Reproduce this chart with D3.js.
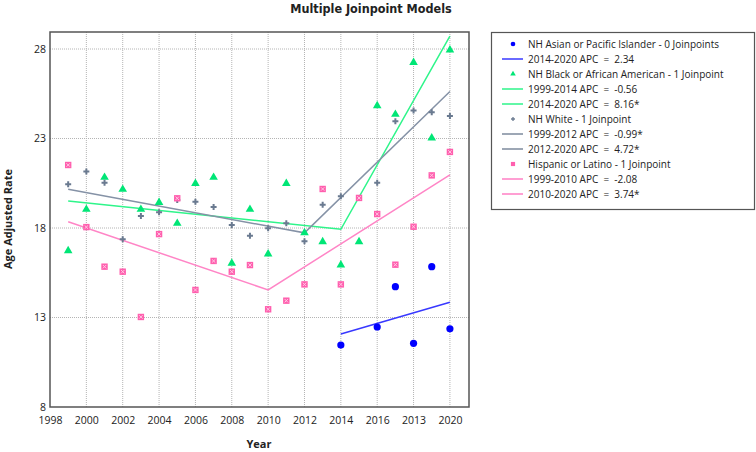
<!DOCTYPE html>
<html>
<head>
<meta charset="utf-8">
<script src="https://cdn.jsdelivr.net/npm/d3@7"></script>
<style>
  body { margin: 0; background: #fff; }
  text { font-family: "Open Sans", "Noto Sans", sans-serif; fill: #222; }
</style>
</head>
<body>
<div id="chart"></div>
<script>
// observed rates per year (null = no point shown)
const years = [1999, 2000, 2001, 2002, 2003, 2004, 2005, 2006, 2007, 2008, 2009,
               2010, 2011, 2012, 2013, 2014, 2015, 2016, 2017, 2018, 2019, 2020];

const asianRates = [null, null, null, null, null, null, null, null, null, null, null,
                    null, null, null, null, 11.46, null, 12.47, 14.72, 11.56, 15.84, 12.37];
const blackRates = [16.73, 19.04, 20.83, 20.16, 19.04, 19.43, 18.26, 20.49, 20.83, 16.03, 19.04,
                    16.55, 20.49, 17.74, 17.23, 15.93, 17.23, 24.83, 24.35, 27.25, 23.03, 27.94];
const whiteRates = [20.44, 21.15, 20.53, 17.37, 18.67, 18.88, 19.56, 19.47, 19.17, 18.17, 17.57,
                    17.98, 18.26, 17.26, 19.30, 19.77, null, 20.53, 23.96, 24.56, 24.46, 24.26];
const hispanicRates = [21.52, 18.05, 15.84, 15.56, 13.03, 17.66, 19.66, 14.54, 16.16, 15.56, 15.93,
                       13.46, 13.94, 14.85, 20.18, 14.85, 19.68, 18.78, 15.95, 18.07, 20.94, 22.25];

// joinpoint model fits (knot years and fitted values)
const asianFitYears = [2014, 2020];
const asianFitValues = [12.08, 13.85];
const blackFitYears = [1999, 2014, 2020];
const blackFitValues = [19.51, 17.93, 28.72];
const whiteFitYears = [1999, 2012, 2020];
const whiteFitValues = [20.16, 17.73, 25.63];
const hispanicFitYears = [1999, 2010, 2020];
const hispanicFitValues = [18.35, 14.54, 20.97];

// axis ticks
const xTicks = [1998, 2000, 2002, 2004, 2006, 2008, 2010, 2012, 2014, 2016, 2018, 2020];
const xTickLabels = ["1998", "2000", "2002", "2004", "2006", "2008", "2010", "2012", "2014", "2016", "2013", "2020"];
const yTicks = [8, 13, 18, 23, 28];

// legend rows
const legendLabels = [
    "NH Asian or Pacific Islander - 0 Joinpoints",
    "2014-2020 APC  =  2.34",
    "NH Black or African American - 1 Joinpoint",
    "1999-2014 APC  =  -0.56",
    "2014-2020 APC  =  8.16*",
    "NH White - 1 Joinpoint",
    "1999-2012 APC  =  -0.99*",
    "2012-2020 APC  =  4.72*",
    "Hispanic or Latino - 1 Joinpoint",
    "1999-2010 APC  =  -2.08",
    "2010-2020 APC  =  3.74*"
];
const legendKinds = ["asian", "line", "black", "line", "line", "white", "line", "line", "hispanic", "line", "line"];
const legendColors = ["#0000ff", "#3838ff", "#00e676", "#2ef58a", "#2ef58a", "#708090", "#7d8a9c", "#7d8a9c",
                      "#ff5fae", "#ff7fc4", "#ff7fc4"];

const width = 756, height = 452;
const plot = { left: 50, right: 469, top: 32, bottom: 407 };

const svg = d3.select("#chart").append("svg")
    .attr("width", width)
    .attr("height", height);

const x = d3.scaleLinear().domain([1998, 2021.05]).range([plot.left, plot.right]);
const y = d3.scaleLinear().domain([8, 28.95]).range([plot.bottom, plot.top]);

// title
svg.append("text")
    .attr("x", 371).attr("y", 13)
    .attr("text-anchor", "middle")
    .style("font-family", "'Liberation Sans Narrow', 'DejaVu Sans Condensed', sans-serif")
    .style("font-weight", "bold")
    .style("font-size", "12.5px")
    .text("Multiple Joinpoint Models");

// gridlines
svg.append("g").selectAll("line")
    .data(xTicks.filter(d => d > 1998))
    .enter().append("line")
    .attr("x1", d => x(d)).attr("x2", d => x(d))
    .attr("y1", plot.top).attr("y2", plot.bottom)
    .attr("stroke", "#b4b4b4")
    .attr("stroke-dasharray", "1,1");

svg.append("g").selectAll("line")
    .data(yTicks.filter(d => d > 8))
    .enter().append("line")
    .attr("x1", plot.left).attr("x2", plot.right)
    .attr("y1", d => y(d)).attr("y2", d => y(d))
    .attr("stroke", "#b4b4b4")
    .attr("stroke-dasharray", "1,1");

// axes (labels only, frame drawn below)
const xAxis = svg.append("g")
    .attr("transform", `translate(0,${plot.bottom})`)
    .call(d3.axisBottom(x).tickValues(xTicks).tickSize(0).tickPadding(10)
        .tickFormat((d, i) => xTickLabels[i]));
xAxis.select(".domain").remove();
xAxis.selectAll("text").style("font-size", "10.5px").attr("fill", "#222");

const yAxis = svg.append("g")
    .attr("transform", `translate(${plot.left},0)`)
    .call(d3.axisLeft(y).tickValues(yTicks).tickSize(0).tickPadding(4));
yAxis.select(".domain").remove();
yAxis.selectAll("text").style("font-size", "10.5px").attr("fill", "#222");

// axis titles
svg.append("text")
    .attr("x", 259).attr("y", 448)
    .attr("text-anchor", "middle")
    .style("font-weight", "bold").style("font-size", "11px")
    .text("Year");

svg.append("text")
    .attr("transform", "translate(12,219) rotate(-90)")
    .attr("text-anchor", "middle")
    .style("font-weight", "bold").style("font-size", "11px")
    .text("Age Adjusted Rate");

/*
    marker painters, shared by plot and legend
*/
function drawMarker(g, kind, cx, cy, s) {
    if (kind === "asian") {
        g.append("circle").attr("cx", cx).attr("cy", cy).attr("r", 3.6 * s).attr("fill", "#0000ff");
    } else if (kind === "black") {
        g.append("path")
            .attr("d", d3.symbol().type(d3.symbolTriangle).size(32 * s * s)())
            .attr("transform", `translate(${cx},${cy})`)
            .attr("fill", "#00e676");
    } else if (kind === "white") {
        g.append("path")
            .attr("d", d3.symbol().type(d3.symbolCross).size(20 * s * s)())
            .attr("transform", `translate(${cx},${cy})`)
            .attr("fill", "#6a7a90");
    } else if (kind === "hispanic") {
        const h = 3.2 * s;
        g.append("rect").attr("x", cx - h).attr("y", cy - h)
            .attr("width", 2 * h).attr("height", 2 * h).attr("fill", "#ff5fae");
        if (s >= 1) {
            g.append("path")
                .attr("d", `M${cx - h + 1.5},${cy - h + 1.5}L${cx + h - 1.5},${cy + h - 1.5}M${cx + h - 1.5},${cy - h + 1.5}L${cx - h + 1.5},${cy + h - 1.5}`)
                .attr("stroke", "#ffc8e4").attr("stroke-width", 1);
        }
    }
}

const series = [
    { kind: "asian", rates: asianRates, fitYears: asianFitYears, fitValues: asianFitValues, line: "#3838ff" },
    { kind: "black", rates: blackRates, fitYears: blackFitYears, fitValues: blackFitValues, line: "#2ef58a" },
    { kind: "white", rates: whiteRates, fitYears: whiteFitYears, fitValues: whiteFitValues, line: "#8592a6" },
    { kind: "hispanic", rates: hispanicRates, fitYears: hispanicFitYears, fitValues: hispanicFitValues, line: "#ff85c6" }
];

const lineGen = d3.line().x(d => x(d[0])).y(d => y(d[1]));

// fitted lines first, points on top
const fits = svg.append("g");
series.forEach(s => {
    fits.append("path")
        .datum(s.fitYears.map((yr, i) => [yr, s.fitValues[i]]))
        .attr("d", lineGen)
        .attr("fill", "none")
        .attr("stroke", s.line)
        .attr("stroke-width", 1.5);
});

const pts = svg.append("g");
series.forEach(s => {
    years.forEach((yr, i) => {
        if (s.rates[i] == null) return;
        drawMarker(pts, s.kind, x(yr), y(s.rates[i]), 1);
    });
});

// plot frame
svg.append("rect")
    .attr("x", plot.left).attr("y", plot.top)
    .attr("width", plot.right - plot.left).attr("height", plot.bottom - plot.top)
    .attr("fill", "none")
    .attr("stroke", "#555")
    .attr("stroke-width", 1.5);

// legend
const legend = svg.append("g");
legend.append("rect")
    .attr("x", 491.5).attr("y", 32.5)
    .attr("width", 263).attr("height", 177)
    .attr("fill", "none")
    .attr("stroke", "#555")
    .attr("stroke-width", 1.2);

legendLabels.forEach((label, i) => {
    const ly = 44 + i * 15;
    if (legendKinds[i] === "line") {
        legend.append("line")
            .attr("x1", 502).attr("x2", 523)
            .attr("y1", ly).attr("y2", ly)
            .attr("stroke", legendColors[i])
            .attr("stroke-width", 1.5);
    } else {
        drawMarker(legend, legendKinds[i], 513, ly, 0.65);
    }
    legend.append("text")
        .attr("x", 528).attr("y", ly + 3.6)
        .style("font-size", "10px")
        .style("white-space", "pre")
        .text(label);
});
</script>
</body>
</html>
